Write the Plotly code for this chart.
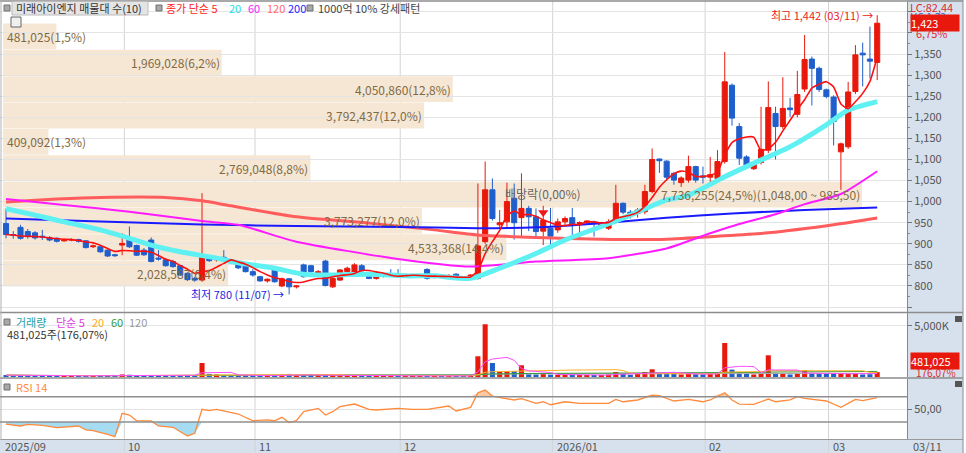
import numpy as np
import pandas as pd
import plotly.graph_objects as go

# ---------------- data ----------------
month_labels = ["2025/09", "10", "11", "12", "2026/01", "02", "03"]
month_first_idx = [0, 17, 35, 55, 76, 97, 114]
last_date_label = "03/11"
high_date = "03/11"
low_date = "11/07"
price_ticks = [750, 800, 850, 900, 950, 1000, 1050, 1100, 1150, 1200, 1250, 1300, 1350, 1400, 1450]
price_tick_shown = [800, 1350]   # labelled range (inclusive)

opens = [948, 922, 939, 929, 926, 918, 915, 913, 907, 909,
         910, 907, 893, 893, 885, 874, 897, 911, 896, 885,
         909, 866, 862, 858, 848, 830, 818, 814, 866, 862,
         868, 862, 854, 852, 834, 822, 812, 838, 800, 817,
         798, 850, 848, 828, 859, 798, 814, 834, 828, 848,
         830, 818, 824, 826, 825, 824, 825, 823, 839, 820,
         823, 820, 828, 819, 818, 818, 905, 1028, 945, 952,
         1008, 962, 984, 964, 930, 937, 933, 952, 962, 948,
         950, 952, 940, 937, 952, 996, 975, 972, 976, 1024,
         1101, 1096, 1067, 1045, 1051, 1083, 1061, 1058, 1055, 1095,
         1276, 1178, 1106, 1078, 1093, 1122, 1209, 1178, 1222, 1207,
         1267, 1338, 1316, 1265, 1248, 1118, 1130, 1261, 1352, 1338,
         1330]
highs = [983, 930, 945, 935, 930, 933, 918, 915, 912, 913,
         912, 909, 898, 896, 887, 876, 925, 941, 898, 890,
         915, 885, 866, 862, 850, 832, 822, 1020, 870, 870,
         885, 864, 857, 855, 840, 824, 818, 842, 820, 819,
         802, 853, 850, 838, 862, 822, 840, 846, 854, 852,
         832, 824, 830, 840, 840, 830, 829, 827, 842, 828,
         826, 828, 830, 822, 828, 1043, 1095, 1055, 980, 1045,
         1043, 1067, 990, 984, 990, 985, 960, 965, 985, 953,
         956, 955, 952, 958, 1040, 998, 980, 985, 1040, 1126,
         1102, 1098, 1070, 1060, 1109, 1085, 1083, 1106, 1122, 1355,
         1280, 1186, 1110, 1095, 1225, 1285, 1225, 1295, 1246, 1310,
         1395, 1344, 1320, 1268, 1252, 1140, 1284, 1371, 1377, 1415,
         1442]
lows = [913, 912, 910, 912, 910, 909, 906, 903, 905, 906,
        903, 889, 890, 879, 869, 869, 873, 890, 871, 871,
        856, 860, 846, 843, 824, 812, 810, 810, 857, 858,
        857, 852, 840, 832, 822, 810, 808, 808, 797, 780,
        794, 820, 830, 826, 799, 795, 812, 830, 826, 834,
        816, 815, 820, 822, 820, 821, 822, 820, 815, 818,
        819, 818, 816, 815, 815, 815, 900, 955, 935, 940,
        910, 915, 930, 917, 897, 897, 926, 945, 917, 912,
        945, 917, 935, 933, 948, 970, 960, 962, 970, 1020,
        1068, 1050, 1040, 1035, 1045, 1045, 1043, 1043, 1050, 1090,
        1180, 1087, 1082, 1075, 1088, 1115, 1100, 1172, 1201, 1200,
        1260, 1228, 1260, 1245, 1133, 1028, 1125, 1255, 1273, 1292,
        1288]
closes = [922, 920, 913, 917, 914, 916, 909, 906, 909, 910,
          906, 891, 895, 881, 871, 872, 901, 893, 873, 874,
          858, 864, 848, 846, 826, 815, 814, 867, 860, 867,
          860, 855, 843, 834, 826, 812, 816, 810, 817, 798,
          800, 822, 834, 834, 801, 818, 838, 842, 850, 836,
          818, 821, 827, 826, 823, 824, 827, 825, 818, 823,
          821, 825, 818, 817, 826, 895, 1028, 960, 950, 1000,
          950, 984, 964, 929, 956, 918, 952, 960, 945, 950,
          954, 950, 948, 952, 996, 975, 970, 980, 1024, 1100,
          1097, 1058, 1051, 1056, 1083, 1051, 1058, 1064, 1095, 1284,
          1198, 1103, 1087, 1092, 1124, 1223, 1178, 1221, 1218, 1254,
          1337, 1316, 1266, 1249, 1190, 1137, 1260, 1348, 1348, 1333,
          1423]
volumes = [180000, 120000, 150000, 200000, 130000, 110000, 90000, 100000, 120000, 110000,
           100000, 150000, 140000, 130000, 160000, 120000, 250000, 220000, 150000, 120000,
           200000, 130000, 140000, 160000, 180000, 200000, 170000, 1370000, 300000, 250000,
           200000, 150000, 130000, 120000, 140000, 160000, 130000, 150000, 240000, 300000,
           140000, 200000, 150000, 120000, 250000, 180000, 200000, 150000, 170000, 140000,
           120000, 110000, 100000, 100000, 90000, 90000, 100000, 100000, 150000, 90000,
           90000, 100000, 110000, 100000, 130000, 2030000, 5166000, 1373000, 490000, 560000,
           560000, 1147000, 265000, 250000, 300000, 230000, 200000, 220000, 180000, 150000,
           160000, 170000, 200000, 250000, 490000, 300000, 220000, 300000, 490000, 755000,
           400000, 350000, 300000, 250000, 350000, 280000, 250000, 300000, 350000, 3333000,
           725000, 500000, 300000, 250000, 350000, 2127000, 400000, 350000, 250000, 300000,
           657000, 400000, 350000, 300000, 350000, 300000, 300000, 392000, 250000, 273200,
           481025]

ma20_idx = [0, 4, 8, 13, 17, 20, 24, 29, 32, 37, 41, 45, 50, 55, 59, 64, 68, 73, 77, 82,
            86, 91, 94, 99, 103, 108, 113, 116, 120]
ma20_val = [983, 968, 952, 933, 913, 897, 881, 866, 855, 842, 828, 826, 828, 824, 824, 818, 842,
            877, 909, 941, 968, 1004, 1015, 1059, 1091, 1130, 1182, 1217, 1237]
ma60_idx = [0, 8, 17, 27, 32, 40, 54, 64, 73, 83, 91, 97, 101, 106, 110, 115, 120]
ma60_val = [1006, 992, 976, 954, 945, 905, 864, 846, 858, 866, 889, 925, 947, 970, 994, 1018, 1072]
ma120_idx = [0, 7, 13, 22, 27, 31, 40, 50, 59, 65, 73, 82, 91, 98, 105, 114, 120]
ma120_val = [999, 1006, 1010, 1010, 1002, 990, 964, 949, 933, 921, 915, 911, 911, 918, 926, 945, 961]
ma200_idx = [0, 13, 27, 40, 54, 65, 73, 82, 91, 100, 110, 120]
ma200_val = [960, 953, 946, 942, 940, 937, 939, 949, 962, 972, 980, 986]

rsi_idx = [0, 2, 3, 5, 7, 8, 10, 11, 12, 14, 15, 16, 17, 18, 20, 21, 23, 25, 26, 27, 28, 29,
           31, 32, 34, 36, 37, 38, 39, 40, 41, 43, 44, 45, 46, 48, 50, 51, 54, 56, 58, 61,
           62, 64, 65, 66, 67, 69, 70, 71, 72, 73, 74, 75, 77, 79, 81, 83, 84, 85, 87, 89,
           90, 92, 94, 96, 97, 99, 100, 101, 103, 105, 106, 108, 109, 110, 113, 115, 116,
           117, 118, 120]
rsi_val = [26.8, 23.7, 26.3, 24.7, 21.0, 22.0, 23.7, 17.4, 16.3, 10.5, 6.8, 43.7, 41.0, 32.0,
           31.6, 23.7, 21.6, 7.9, 12.1, 50.0, 47.9, 50.0, 44.7, 42.6, 32.0, 33.2, 32.0, 37.4,
           29.0, 32.0, 46.3, 51.6, 41.0, 46.3, 54.2, 58.4, 50.0, 49.0, 51.6, 50.0, 50.0, 55.3,
           47.4, 53.2, 76.3, 80.5, 71.0, 67.4, 64.8, 66.8, 63.7, 59.5, 62.0, 57.3, 62.0, 59.5,
           59.5, 59.5, 65.8, 62.0, 64.8, 72.6, 71.6, 63.2, 65.8, 62.0, 64.8, 76.3, 64.8, 58.4,
           57.9, 66.3, 62.0, 65.0, 70.0, 67.4, 63.2, 53.2, 59.5, 65.8, 63.7, 68.4]

band_edges = [798.0, 860.5, 923.0, 985.5, 1048.0, 1110.5, 1173.0, 1235.5, 1298.0, 1360.5, 1423.0]
band_volumes = [2028587, 4533368, 3773277, 7736255, 2769048, 409092, 3792437, 4050860, 1969028, 481025]
band_pcts = [6.4, 14.4, 12.0, 24.5, 8.8, 1.3, 12.0, 12.8, 6.2, 1.5]

ex_div_idx = 74
ex_div_text = "배당락(0,00%)"
lc_text = "LC:82,44"
hc_text = "HC:1,32"

# ---------------- helpers / style ----------------
W, H = 966, 453
XR = 907          # right edge of plot area (px)
STEP = 7.26       # px per candle
X_OFF = 6         # px of candle 0
FONT = "Noto Sans CJK KR, Noto Sans, sans-serif"
UP, DN = "#e8190c", "#1f5fcc"
BAND_FILL = "#f6e7d5"
BAND_TXT = "#7f6a45"
AXIS_BG = "#d7e1ed"

def fx(px):
    return px / W

def fy(py):
    return 1 - py / H

def num(v, dec=0):
    return f"{v:,.{dec}f}".replace(".", ",")

idx = list(range(len(closes)))
xr0, xr1 = (0 - X_OFF) / STEP, (XR - X_OFF) / STEP
cols = [UP if c >= o else DN for o, c in zip(opens, closes)]
ma5 = pd.Series(closes, dtype=float).rolling(5, min_periods=1).mean()
vs = pd.Series(volumes, dtype=float)
vma = {n: vs.rolling(n, min_periods=1).mean() for n in (5, 20, 60, 120)}

fig = go.Figure()

# price moving averages (under candles)
for xs, ys, colr, wd in [(ma120_idx, ma120_val, "#ff5d5d", 3),
                         (ma200_idx, ma200_val, "#1a1aff", 2),
                         (ma60_idx, ma60_val, "#ff1aff", 2),
                         (ma20_idx, ma20_val, "#5ff0f2", 5)]:
    fig.add_trace(go.Scatter(x=xs, y=ys, mode="lines", line=dict(color=colr, width=wd, shape="spline", smoothing=0.6),
                             hoverinfo="skip", xaxis="x", yaxis="y"))

fig.add_trace(go.Candlestick(x=idx, open=opens, high=highs, low=lows, close=closes,
                             increasing=dict(line=dict(color=UP, width=1), fillcolor=UP),
                             decreasing=dict(line=dict(color=DN, width=1), fillcolor=DN),
                             whiskerwidth=0, hoverinfo="skip", xaxis="x", yaxis="y"))
fig.add_trace(go.Scatter(x=idx, y=ma5, mode="lines", line=dict(color="#ff1010", width=1.6, shape="spline", smoothing=0.5),
                         hoverinfo="skip", xaxis="x", yaxis="y"))

# ex-dividend marker
fig.add_trace(go.Scatter(x=[ex_div_idx], y=[max(opens[ex_div_idx], closes[ex_div_idx]) + 18], mode="markers",
                         marker=dict(symbol="triangle-down", size=9, color="#ee1a1a"),
                         hoverinfo="skip", xaxis="x", yaxis="y"))

# volume
fig.add_trace(go.Bar(x=idx, y=volumes, marker=dict(color=cols, line=dict(width=0)), width=0.7,
                     hoverinfo="skip", xaxis="x", yaxis="y2"))
for n, colr in [(120, "#aaaaaa"), (60, "#2f9a3a"), (20, "#ffb024"), (5, "#ff4cff")]:
    fig.add_trace(go.Scatter(x=idx, y=vma[n], mode="lines", line=dict(color=colr, width=1),
                             hoverinfo="skip", xaxis="x", yaxis="y2"))

# RSI with zone fills
rv = np.array(rsi_val, dtype=float)
fig.add_trace(go.Scatter(x=rsi_idx, y=[30] * len(rv), mode="lines", line=dict(width=0), hoverinfo="skip",
                         xaxis="x", yaxis="y3"))
fig.add_trace(go.Scatter(x=rsi_idx, y=np.minimum(rv, 30), mode="lines", line=dict(width=0), fill="tonexty",
                         fillcolor="#a5dcf2", hoverinfo="skip", xaxis="x", yaxis="y3"))
fig.add_trace(go.Scatter(x=rsi_idx, y=[70] * len(rv), mode="lines", line=dict(width=0), hoverinfo="skip",
                         xaxis="x", yaxis="y3"))
fig.add_trace(go.Scatter(x=rsi_idx, y=np.maximum(rv, 70), mode="lines", line=dict(width=0), fill="tonexty",
                         fillcolor="#fcc9a2", hoverinfo="skip", xaxis="x", yaxis="y3"))
fig.add_trace(go.Scatter(x=rsi_idx, y=rv, mode="lines", line=dict(color="#ff8a3c", width=1.3),
                         hoverinfo="skip", xaxis="x", yaxis="y3"))

shapes = []
ann = []

# background of the right axis column and the bottom date band
shapes.append(dict(type="rect", xref="paper", yref="paper", x0=fx(XR), x1=fx(963), y0=0, y1=1,
                   fillcolor=AXIS_BG, line=dict(width=0), layer="below"))
shapes.append(dict(type="rect", xref="paper", yref="paper", x0=0, x1=fx(963), y0=0, y1=fy(440),
                   fillcolor=AXIS_BG, line=dict(width=0), layer="below"))

# volume-profile bands
BAND_X0 = (3 - X_OFF) / STEP
BAND_XMAX = (862 - X_OFF) / STEP
vmax = max(band_volumes)
kmax = band_volumes.index(vmax)
for k, v in enumerate(band_volumes):
    x1 = BAND_X0 + v / vmax * (BAND_XMAX - BAND_X0)
    shapes.append(dict(type="rect", xref="x", yref="y", x0=BAND_X0, x1=x1,
                       y0=band_edges[k] + 0.6, y1=band_edges[k + 1] - 0.6,
                       fillcolor=BAND_FILL, line=dict(width=0), layer="below"))
    txt = f"{num(v)}({num(band_pcts[k], 1)}%)"
    if k == kmax:
        txt += f"({num(band_edges[k + 1], 2)} ~ {num(band_edges[k], 2)})"
    ymid = (band_edges[k] + band_edges[k + 1]) / 2
    if (x1 - BAND_X0) * STEP > 100:
        ann.append(dict(x=x1, y=ymid, xref="x", yref="y", text=txt, showarrow=False, xanchor="right",
                        yanchor="middle", font=dict(size=12, color=BAND_TXT, family=FONT)))
    else:
        ann.append(dict(x=BAND_X0, y=ymid, xref="x", yref="y", text=txt, showarrow=False, xanchor="left",
                        xshift=2, yanchor="middle", font=dict(size=12, color=BAND_TXT, family=FONT)))

# month separators (behind the candles) and labels
for k, (lab, mi) in enumerate(zip(month_labels, month_first_idx)):
    xm = mi - 0.7
    if k > 0:
        shapes.append(dict(type="line", xref="x", yref="paper", x0=xm, x1=xm, y0=fy(452), y1=fy(1),
                           line=dict(color="#d3d3d3", width=1), layer="below"))
    ann.append(dict(x=max(xm, xr0), y=fy(446), xref="x", yref="paper", text=lab, showarrow=False,
                    xanchor="left", xshift=2, yanchor="middle", font=dict(size=11, color="#555", family=FONT)))
ann.append(dict(x=fx(911), y=fy(446), xref="paper", yref="paper", text=last_date_label, showarrow=False,
                xanchor="left", yanchor="middle", font=dict(size=11, color="#555", family=FONT)))

# panel separator lines
for py, c, w in [(1, "#8c8c8c", 1.5), (312.5, "#8c8c8c", 1.5), (378, "#8c8c8c", 1.5), (439.5, "#9a9a9a", 1)]:
    shapes.append(dict(type="line", xref="paper", yref="paper", x0=0, x1=fx(963), y0=fy(py), y1=fy(py),
                       line=dict(color=c, width=w)))
shapes.append(dict(type="line", xref="paper", yref="paper", x0=fx(963), x1=fx(963), y0=0, y1=1,
                   line=dict(color="#8c8c8c", width=1)))
shapes.append(dict(type="line", xref="paper", yref="paper", x0=fx(1), x1=fx(1), y0=fy(440), y1=1,
                   line=dict(color="#b0b0b0", width=1)))

# RSI guide lines
for lv in (30, 70):
    shapes.append(dict(type="line", xref="paper", yref="y3", x0=0, x1=fx(XR), y0=lv, y1=lv,
                       line=dict(color="#8f8f8f", width=1.5)))

# legend boxes / icons
def icon(px, py):
    shapes.append(dict(type="rect", xref="paper", yref="paper", x0=fx(px), x1=fx(px + 6), y0=fy(py + 3), y1=fy(py - 3),
                       fillcolor="#a8a8a8", line=dict(color="#707070", width=1)))

shapes.append(dict(type="rect", xref="paper", yref="paper", x0=fx(12), x1=fx(148), y0=fy(15), y1=fy(1.5),
                   fillcolor="#e4e4e4", line=dict(color="#bcbcbc", width=1)))
icon(4, 8)
icon(156, 8)
icon(307, 8)
icon(4, 322)
icon(4, 387)
shapes.append(dict(type="rect", xref="paper", yref="paper", x0=fx(11), x1=fx(21), y0=fy(27), y1=fy(17),
                   fillcolor="#f0f0f0", line=dict(color="#666", width=1)))
for py in (316, 381):
    shapes.append(dict(type="rect", xref="paper", yref="paper", x0=fx(955), x1=fx(962), y0=fy(py + 6), y1=fy(py),
                       fillcolor="#555", line=dict(width=0)))

def label(px, py, text, color, size=11, anchor="left", **kw):
    ann.append(dict(x=fx(px), y=fy(py), xref="paper", yref="paper", text=text, showarrow=False,
                    xanchor=anchor, yanchor="middle", font=dict(size=size, color=color, family=FONT), **kw))

label(14, 8, "미래아이엔지 매물대 수(10)", "#333")
label(164, 8, "종가 단순 5", "#ff1a1a")
label(227, 8, "20", "#22dfe8")
label(246, 8, "60", "#ff1aff")
label(265, 8, "120", "#ff6a6a")
label(286, 8, "200", "#2323ff")
label(316, 8, "1000억 10% 강세패턴", "#444")

label(14, 322, "거래량", "#2c9ea6")
label(54, 322, "단순 5", "#e23be2")
label(90, 322, "20", "#ffa820")
label(109, 322, "60", "#2f9a3a")
label(127, 322, "120", "#999")
vol_ratio = volumes[-1] / volumes[-2] * 100
label(5, 334, f"{num(volumes[-1])}주({num(vol_ratio, 2)}%)", "#333")
label(14, 387, "RSI 14", "#ff8a3c")

# right axis overlays
chg = (closes[-1] / closes[-2] - 1) * 100
label(908, 7, lc_text, "#e02a2a")
label(908, 17, hc_text, "#2a63d6", size=10)
label(910, 22.5, num(closes[-1]), "white", bgcolor="#e8190c", width=48, align="left", borderpad=0)
label(914, 33, num(chg, 2) + "%", "#e02a2a")
label(910, 360.5, num(volumes[-1]), "white", bgcolor="#e8190c", width=48, align="left", borderpad=0)
label(914, 372, num(vol_ratio, 2) + "%", "#e02a2a", size=10)

# high / low annotations
ih = int(np.argmax(highs))
il = int(np.argmin(lows))
ann.append(dict(x=ih - 0.3, y=highs[ih], xref="x", yref="y", text=f"최고 {num(highs[ih])} ({high_date}) →",
                showarrow=False, xanchor="right", yanchor="middle", font=dict(size=11, color="#ee2020", family=FONT)))
ann.append(dict(x=il - 0.4, y=lows[il], xref="x", yref="y", text=f"최저 {num(lows[il])} ({low_date}) →",
                showarrow=False, xanchor="right", yanchor="middle", font=dict(size=11, color="#2323e0", family=FONT)))
ann.append(dict(x=ex_div_idx, y=max(opens[ex_div_idx], closes[ex_div_idx]) + 18, xref="x", yref="y",
                text=ex_div_text, showarrow=False, xanchor="center", yanchor="bottom", yshift=9,
                font=dict(size=12, color="#666", family=FONT)))

axis_common = dict(side="right", anchor="x", ticks="outside", ticklen=4, tickcolor="#777",
                   tickfont=dict(size=11, color="#555", family=FONT), showline=True, linecolor="#888",
                   zeroline=False, fixedrange=True, gridcolor="#e4e4e4", showgrid=True)

lo_t, hi_t = price_tick_shown
fig.update_layout(
    width=W, height=H, margin=dict(l=0, r=0, t=0, b=0),
    paper_bgcolor="white", plot_bgcolor="white", showlegend=False, bargap=0.3,
    boxgap=0.0, boxgroupgap=0.3,
    font=dict(family=FONT),
    xaxis=dict(domain=[0, fx(XR)], range=[xr0, xr1], showticklabels=False, showgrid=False, zeroline=False,
               rangeslider=dict(visible=False), fixedrange=True, anchor="y3"),
    yaxis=dict(domain=[fy(312), fy(2)], range=[738.3, 1473.3],
               tickvals=price_ticks,
               ticktext=[num(t) if lo_t <= t <= hi_t else "" for t in price_ticks],
               minor=dict(ticks="outside", ticklen=2, tickcolor="#888", dtick=25, showgrid=False),
               **axis_common),
    yaxis2=dict(domain=[fy(377), fy(313)], range=[0, 6270000], tickvals=[5000000], ticktext=["5,000K"],
                **axis_common),
    yaxis3=dict(domain=[fy(439), fy(379)], range=[3.1, 98], tickvals=[50], ticktext=["50,00"],
                **axis_common),
    shapes=shapes, annotations=ann,
)

fig.write_html("out.html", config={"displayModeBar": False},
               post_script="document.body.style.margin='0px';document.body.style.overflow='hidden';")
